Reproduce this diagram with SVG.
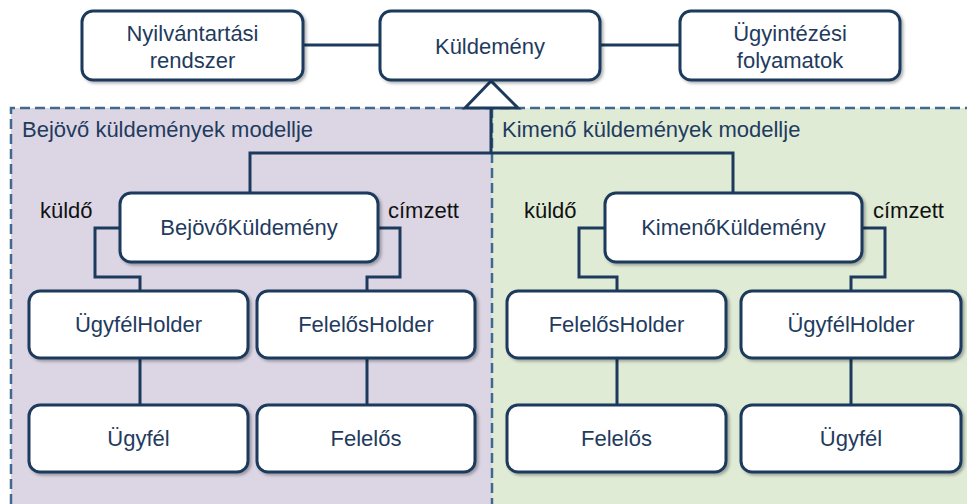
<svg xmlns="http://www.w3.org/2000/svg" width="967" height="504" viewBox="0 0 967 504">
<style>
.box{fill:#fff;stroke:#1b3a5c;stroke-width:3;filter:url(#sh)}
.t{font-family:"Liberation Sans",Arial,sans-serif;font-size:22px;fill:#1f3b5e;text-anchor:middle}
.lbl{font-family:"Liberation Sans",Arial,sans-serif;font-size:22px;fill:#111}
.pt{font-family:"Liberation Sans",Arial,sans-serif;font-size:22px;fill:#1f3b5e}
.c{fill:none;stroke:#1b3a5c;stroke-width:3}
.d{fill:none;stroke:#41698f;stroke-width:2.5;stroke-dasharray:10 5}
</style>
<defs>
<filter id="sh" x="-10%" y="-10%" width="130%" height="140%">
<feDropShadow dx="2" dy="2" stdDeviation="1.5" flood-color="#000" flood-opacity="0.3"/>
</filter>
</defs>
<rect width="967" height="504" fill="#fff"/>
<g id="panels">
<rect x="11" y="108" width="481" height="396" fill="#dcd6e4"/>
<rect x="492" y="108" width="475" height="396" fill="#e0ebd6"/>
<path class="d" d="M11 504 V108 H967"/>
<path class="d" d="M492 108 V504" stroke-width="2"/>
<text class="pt" x="22" y="137">Bejövő küldemények modellje</text>
<text class="pt" x="502" y="137">Kimenő küldemények modellje</text>
</g>
<g id="connectors">
<path class="c" d="M303 45 H380"/>
<path class="c" d="M600 45 H680"/>
<path class="c" d="M491 108 V153 M250 193 V153 H733 V193"/>
<polygon points="491,81 465,108 518,108" fill="#fff" stroke="#1b3a5c" stroke-width="3" stroke-linejoin="miter"/>
<path class="c" d="M120 228 H95 V277 H140 V291"/>
<path class="c" d="M378 228 H400 V277 H367 V291"/>
<path class="c" d="M605 228 H579 V277 H617 V291"/>
<path class="c" d="M862 228 H885 V277 H851 V291"/>
<path class="c" d="M140 358 V405 M367 358 V405 M617 358 V405 M851 358 V405"/>
<text class="lbl" x="40" y="218">küldő</text>
<text class="lbl" x="388" y="218">címzett</text>
<text class="lbl" x="524" y="218">küldő</text>
<text class="lbl" x="873" y="218">címzett</text>
</g>
<g id="nyilvantartasi">
<rect class="box" x="82" y="11" width="221" height="69" rx="11"/>
<text class="t" x="192.5" y="41">Nyilvántartási</text>
<text class="t" x="192.5" y="68">rendszer</text>
</g>
<g id="kuldemeny">
<rect class="box" x="380" y="11" width="220" height="69" rx="11"/>
<text class="t" x="490" y="54">Küldemény</text>
</g>
<g id="ugyintezesi">
<rect class="box" x="680" y="11" width="220" height="69" rx="11"/>
<text class="t" x="790" y="41">Ügyintézési</text>
<text class="t" x="790" y="68">folyamatok</text>
</g>
<g id="bejovo">
<rect class="box" x="120" y="193" width="258" height="69" rx="11"/>
<text class="t" x="249" y="235">BejövőKüldemény</text>
</g>
<g id="kimeno">
<rect class="box" x="605" y="193" width="257" height="69" rx="11"/>
<text class="t" x="733.5" y="235">KimenőKüldemény</text>
</g>
<g id="b-ugyfelholder">
<rect class="box" x="29" y="291" width="219" height="67" rx="11"/>
<text class="t" x="138.5" y="332">ÜgyfélHolder</text>
</g>
<g id="b-felelosholder">
<rect class="box" x="257" y="291" width="218" height="67" rx="11"/>
<text class="t" x="366" y="332">FelelősHolder</text>
</g>
<g id="b-ugyfel">
<rect class="box" x="29" y="405" width="219" height="67" rx="11"/>
<text class="t" x="138.5" y="446">Ügyfél</text>
</g>
<g id="b-felelos">
<rect class="box" x="257" y="405" width="218" height="67" rx="11"/>
<text class="t" x="366" y="446">Felelős</text>
</g>
<g id="k-felelosholder">
<rect class="box" x="507" y="291" width="219" height="67" rx="11"/>
<text class="t" x="616.5" y="332">FelelősHolder</text>
</g>
<g id="k-ugyfelholder">
<rect class="box" x="741" y="291" width="220" height="67" rx="11"/>
<text class="t" x="851" y="332">ÜgyfélHolder</text>
</g>
<g id="k-felelos">
<rect class="box" x="507" y="405" width="219" height="67" rx="11"/>
<text class="t" x="616.5" y="446">Felelős</text>
</g>
<g id="k-ugyfel">
<rect class="box" x="741" y="405" width="220" height="67" rx="11"/>
<text class="t" x="851" y="446">Ügyfél</text>
</g>
</svg>
